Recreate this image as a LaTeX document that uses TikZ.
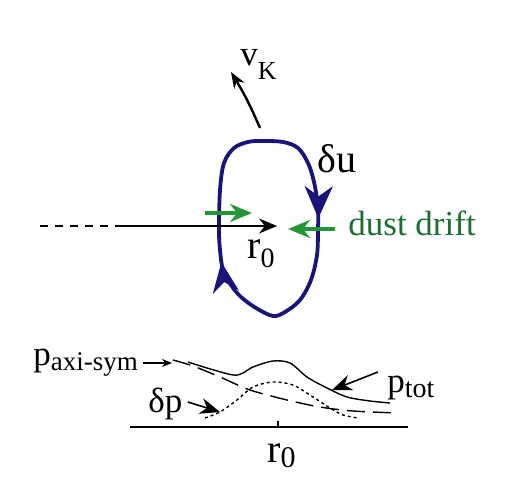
\documentclass[tikz,border=0pt]{standalone}
\usepackage{fontspec}
\setmainfont{Liberation Serif}
\usetikzlibrary{arrows.meta,positioning,decorations.markings}
\definecolor{loopblue}{HTML}{1B1478}
\definecolor{driftgreen}{HTML}{23963A}
\definecolor{drifttext}{HTML}{1C6E33}
% lowered subscript: depth, size, text
\newcommand\lowsub[3]{\raisebox{-#1}{\fontsize{#2}{#2}\selectfont #3}}
\tikzset{
  vortex/.style={draw=loopblue,line width=1.9pt,line join=round},
  radial/.style={-{Stealth[length=9pt,width=7.5pt]},line width=1pt},
  drift/.style={-{Stealth[length=11pt,width=9pt]},draw=driftgreen,line width=2.4pt},
  pointer/.style={-{Stealth[length=#1,width=.8*#1]},line width=.8pt},
  pointer/.default=6pt,
  biglabel/.style={font=\fontsize{20}{24}\selectfont,inner sep=0pt,anchor=base west},
  midlabel/.style={font=\fontsize{17.5}{20}\selectfont,inner sep=0pt,anchor=base west},
  profile/.style={line width=.7pt}
}
\begin{document}
\begin{tikzpicture}[x=.5pt,y=-.5pt]
  \useasboundingbox (0,0) rectangle (515,503);
  % eddy
  \draw[vortex,postaction={decorate},decoration={markings,
      mark=at position 0.2 with {\arrow{Stealth[length=16pt,width=14pt,inset=5pt]}},
      mark=at position 0.63 with {\arrow{Stealth[length=15pt,width=13pt,inset=5pt]}}}]
    plot[smooth cycle,tension=.55] coordinates {(262,141) (283,142) (298,148) (308,163)
      (314,182) (318,207) (318,230) (317,255) (311,280) (300,300) (285,312) (273,316)
      (256,308) (241,297) (231,285) (223,270) (220,250) (219,230) (220,190) (224,163)
      (234,148) (248,142)};
  \node[midlabel] (vk) at (240,65) {v\lowsub{7pt}{13}{K}};
  \coordinate (vktail) at (260,128);
  \coordinate (vktip) at (231,72);
  \draw[-{Stealth[length=8pt,width=6pt]},line width=1.2pt] (vktail) to[bend right=4] (vktip);
  \node[biglabel] (du) at (317,172) {δu};
  % radial direction
  \coordinate (rin) at (40,226);
  \coordinate (rmid) at (115,226);
  \coordinate (rtip) at (277,226);
  \draw[line width=1pt,dash pattern=on 4pt off 3.5pt] (rin) -- (rmid);
  \draw[radial] (rmid) -- (rtip);
  \node[biglabel] (r0) at (247,258) {r\lowsub{4.5pt}{14}{0}};
  % dust drift
  \node[midlabel,text=drifttext] (dd) at (348,235) {dust drift};
  \coordinate (ddtail) at (335,229);
  \coordinate (ddtip) at (288,229);
  \coordinate (dltail) at (205,213);
  \coordinate (dltip) at (252,213);
  \draw[drift] (ddtail) -- (ddtip);
  \draw[drift] (dltail) -- (dltip);
  % pressure profiles
  \coordinate (axl) at (130,427);
  \coordinate (axr) at (408,427);
  \coordinate (tick) at (278,427);
  \draw[line width=.8pt] (axl) -- (axr);
  \draw[line width=.8pt] (tick) -- ++(0,-6);
  \node[biglabel] (r0b) at (267,462) {r\lowsub{2.5pt}{15}{0}};
  \draw[profile,dash pattern=on 9pt off 4pt] plot[smooth] coordinates {(173,360) (193,366)
      (220,377) (250,390) (287,400) (320,407) (353,411) (398,413)};
  \draw[profile] plot[smooth] coordinates {(188,362) (207,368) (233,375) (243,373) (253,367)
      (273,361) (290,363) (307,377) (327,388) (347,397) (370,401) (390,403)};
  \draw[profile,dash pattern=on 1.5pt off 1.5pt] plot[smooth] coordinates {(205,418) (220,412)
      (237,400) (253,387) (273,382) (293,385) (313,397) (330,408) (343,415) (358,418)};
  \node[midlabel] (pax) at (33,365) {p\lowsub{2.5pt}{13.5}{axi-sym}};
  \coordinate (paxtip) at (172,363);
  \draw[pointer=5pt] ([shift={(5,-2)}]pax.base east) -- (paxtip);
  \node[midlabel] (dp) at (148,412) {δp};
  \coordinate (dptip) at (220,412);
  \draw[pointer=10pt] ([shift={(5,-10)}]dp.base east) -- (dptip);
  \node[midlabel] (ptot) at (387,392) {p\lowsub{2.5pt}{14}{tot}};
  \coordinate (ptottip) at (332,390);
  \draw[pointer=10pt] ([shift={(-9,-20)}]ptot.base west) -- (ptottip);
\end{tikzpicture}
\end{document}
